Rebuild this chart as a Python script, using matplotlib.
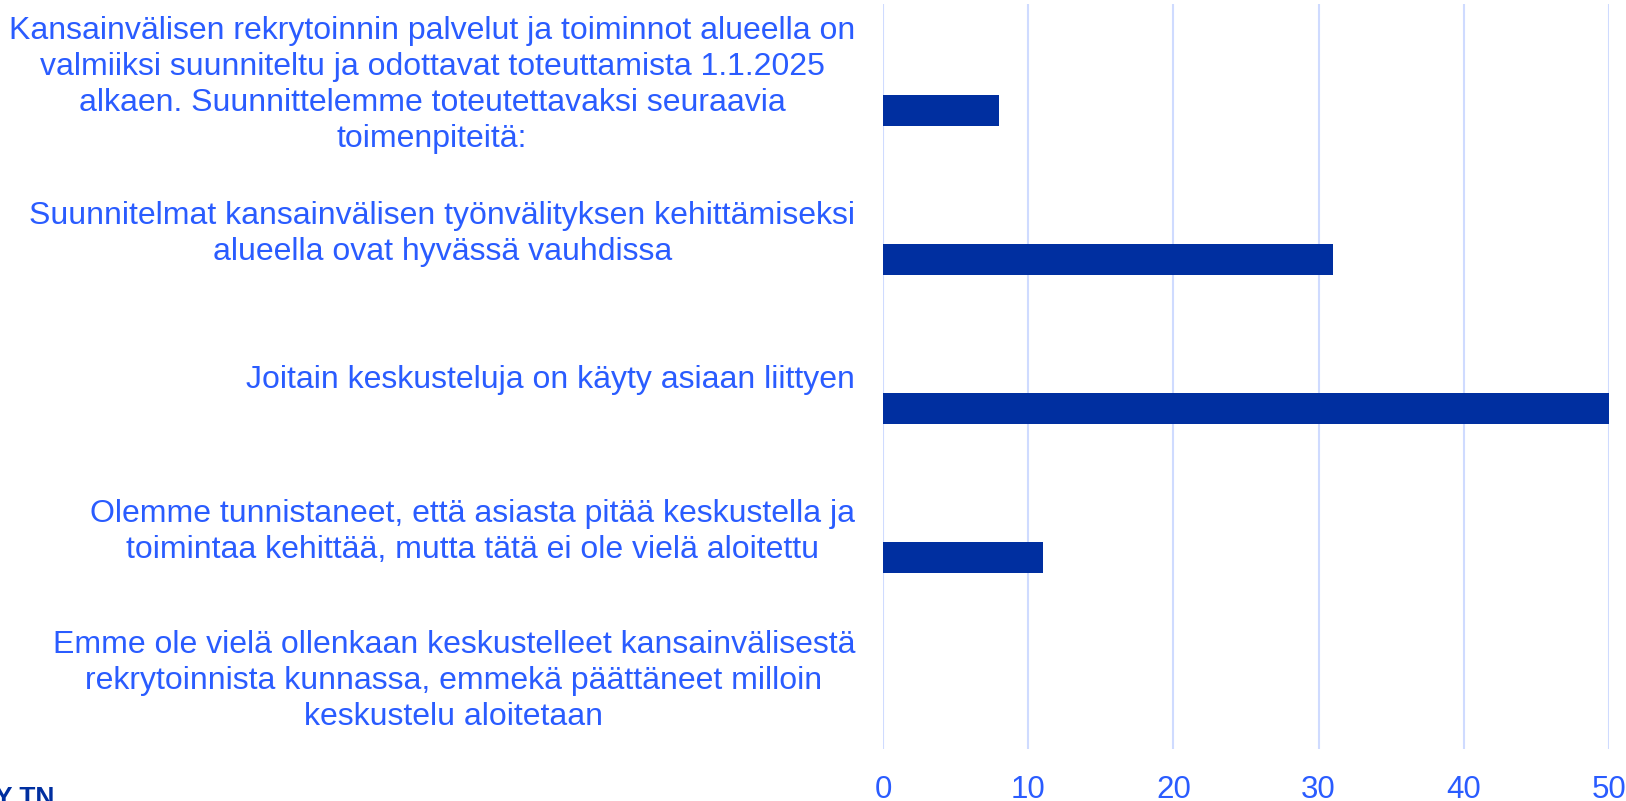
import matplotlib
matplotlib.use("Agg")
import matplotlib.pyplot as plt
import numpy as np

categories = [
    "Kansainvälisen rekrytoinnin palvelut ja toiminnot alueella on\nvalmiiksi suunniteltu ja odottavat toteuttamista 1.1.2025\nalkaen. Suunnittelemme toteutettavaksi seuraavia\ntoimenpiteitä:",
    "Suunnitelmat kansainvälisen työnvälityksen kehittämiseksi\nalueella ovat hyvässä vauhdissa",
    "Joitain keskusteluja on käyty asiaan liittyen",
    "Olemme tunnistaneet, että asiasta pitää keskustella ja\ntoimintaa kehittää, mutta tätä ei ole vielä aloitettu",
    "Emme ole vielä ollenkaan keskustelleet kansainvälisestä\nrekrytoinnista kunnassa, emmekä päättäneet milloin\nkeskustelu aloitetaan",
]
values = [8, 31, 50, 11, 0]
xticks = [0, 10, 20, 30, 40, 50]

TEXT_BLUE = "#2a5cff"
BAR_BLUE = "#002fa0"
GRID_BLUE = "#cfdbff"

plt.rcParams['font.family'] = ['Liberation Sans', 'DejaVu Sans']

fig = plt.figure(figsize=(16.26, 8.01), dpi=100)
W, H = 1626, 801
left, right, top, bottom = 883, 1609, 4, 749
ax = fig.add_axes([left / W, 1 - bottom / H, (right - left) / W, (bottom - top) / H])

pos = np.arange(len(categories))
ax.barh(pos + 0.213, values, height=0.205, color=BAR_BLUE, zorder=3)

ax.set_xlim(0, 50)
ax.set_ylim(len(categories) - 0.5, -0.5)
ax.set_xticks(xticks)
ax.set_xticklabels([str(v) for v in xticks])
ax.set_yticks(pos)
ax.set_yticklabels(categories)

ax.grid(axis='x', color=GRID_BLUE, linewidth=1.5, zorder=0)
ax.grid(axis='y', visible=False)
for s in ax.spines.values():
    s.set_visible(False)

ax.tick_params(axis='y', length=0, pad=20, labelsize=23, labelcolor=TEXT_BLUE)
ax.tick_params(axis='x', length=0, pad=18.5, labelsize=22.5, labelcolor=TEXT_BLUE)
for t in ax.get_yticklabels():
    t.set_multialignment('center')
    t.set_linespacing(1.27)

fig.text(-5 / W, 1 - 786 / H, "Y TN", ha='left', va='top', fontsize=19,
         fontweight='bold', color=BAR_BLUE)

fig.savefig("out.png", dpi=100)
